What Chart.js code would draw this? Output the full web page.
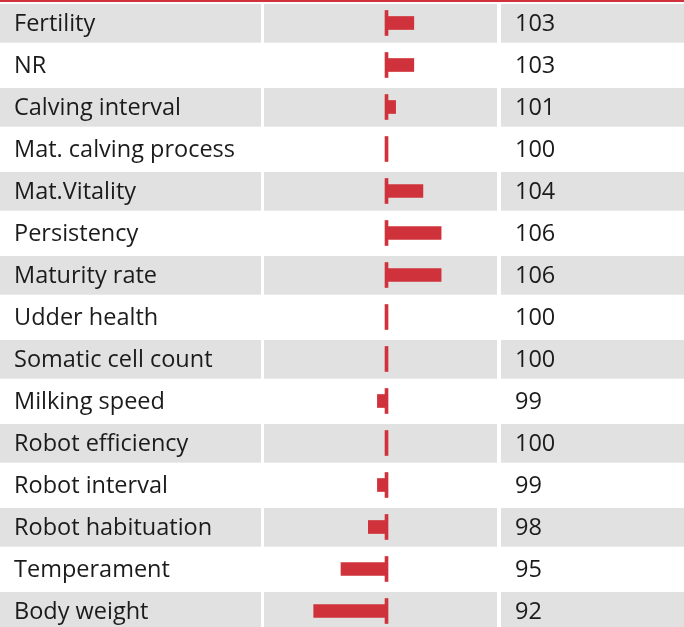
<!DOCTYPE html>
<html>
<head>
<meta charset="utf-8">
<script src="https://cdn.jsdelivr.net/npm/chart.js@4.4.0/dist/chart.umd.min.js"></script>
<style>
  html, body { margin: 0; padding: 0; background: #fff; overflow: hidden; }
  #wrap { width: 684px; height: 632px; }
</style>
</head>
<body>
<div id="wrap"><canvas id="traitChart" width="684" height="632"></canvas></div>
<script>
// rasgos y valores de índice (base 100)
const traits = [
    'Fertility', 'NR', 'Calving interval', 'Mat. calving process', 'Mat.Vitality',
    'Persistency', 'Maturity rate', 'Udder health', 'Somatic cell count', 'Milking speed',
    'Robot efficiency', 'Robot interval', 'Robot habituation', 'Temperament', 'Body weight'
];
const scores = [103, 103, 101, 100, 104, 106, 106, 100, 100, 99, 100, 99, 98, 95, 92];
const scoreLabels = scores.map(v => String(v));
const baseValue = 100;

const red = '#d0323b';
const gray = '#e1e1e1';
const font = { family: 'Open Sans', size: 23.5 };

// filas grises alternas + línea roja superior
const rowBackground = {
    id: 'rowBackground',
    beforeDraw(chart) {
        const ctx = chart.ctx;
        const y = chart.scales.y;
        const band = y.height / traits.length;
        ctx.save();
        ctx.fillStyle = gray;
        traits.forEach((t, i) => {
            if (i % 2 !== 0) return;
            const top = y.getPixelForValue(i) - band / 2 + 2;
            const h = band - 3.3;
            ctx.fillRect(0, top, 261, h);
            ctx.fillRect(264, top, 233, h);
            ctx.fillRect(501, top, 183, h);
        });
        ctx.fillStyle = red;
        ctx.fillRect(0, 0, chart.width, 2);
        ctx.restore();
    }
};

// sin relleno vertical extra de las etiquetas
function fixAxis(width) {
    return scale => {
        scale.width = width;
        scale.paddingTop = 0;
        scale.paddingBottom = 0;
    };
}

const ctx = document.getElementById('traitChart').getContext('2d');
new Chart(ctx, {
    type: 'bar',
    data: {
        labels: traits,
        datasets: [{
            label: 'Index',
            data: scores,
            base: baseValue,
            backgroundColor: red,
            borderWidth: 0,
            barThickness: 13,
            grouped: false,
            order: 1
        }, {
            label: 'Base',
            data: traits.map(() => [baseValue - 0.165, baseValue + 0.165]),
            backgroundColor: red,
            borderWidth: 0,
            barThickness: 25,
            grouped: false,
            order: 2
        }]
    },
    options: {
        indexAxis: 'y',
        responsive: false,
        animation: false,
        layout: { padding: { left: 14, top: 2, right: 0, bottom: 0 } },
        plugins: {
            legend: { display: false },
            tooltip: { enabled: false }
        },
        scales: {
            x: {
                type: 'linear',
                min: 86.54,
                max: 112.14,
                display: false
            },
            y: {
                type: 'category',
                position: 'left',
                offset: true,
                grid: { display: false, drawTicks: false },
                border: { display: false },
                ticks: { crossAlign: 'far', color: '#1b1b1b', font: font, padding: 0, labelOffset: 1.5 },
                afterFit: fixAxis(250)
            },
            y2: {
                type: 'category',
                position: 'right',
                labels: scoreLabels,
                offset: true,
                grid: { display: false, drawTicks: false },
                border: { display: false },
                ticks: { crossAlign: 'near', color: '#1b1b1b', font: font, padding: 18, labelOffset: 1.5 },
                afterFit: fixAxis(187)
            }
        }
    },
    plugins: [rowBackground]
});
</script>
</body>
</html>
